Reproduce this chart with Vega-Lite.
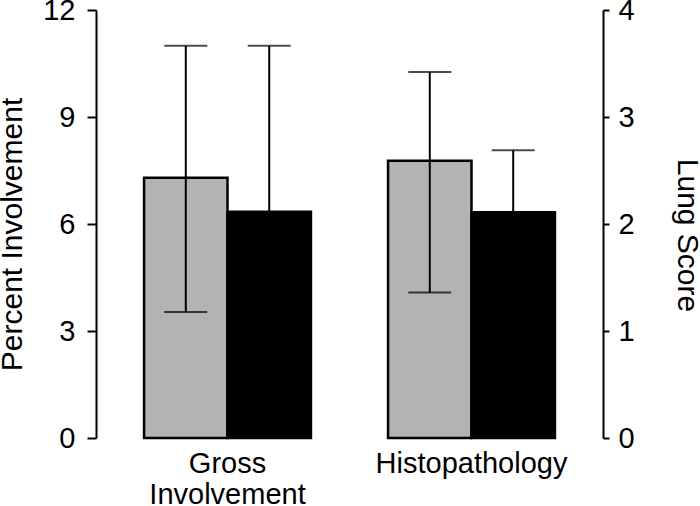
{
  "$schema": "https://vega.github.io/schema/vega-lite/v6.json",
  "width": 507,
  "height": 428,
  "autosize": {"type": "none"},
  "padding": {"left": 96, "top": 10, "right": 97, "bottom": 68},
  "background": "white",
  "config": {
    "view": {"stroke": null},
    "font": "Liberation Sans",
    "axis": {
      "labelFont": "Liberation Sans",
      "titleFont": "Liberation Sans",
      "labelColor": "black",
      "titleColor": "black",
      "domainColor": "black",
      "tickColor": "black",
      "grid": false,
      "labelFontSize": 29,
      "titleFontSize": 30,
      "titleFontWeight": "normal",
      "labelLimit": 400,
      "domainWidth": 2,
      "tickWidth": 2
    }
  },
  "data": {
    "values": [
      {"cat": "Gross Involvement", "grp": "A", "mean": 7.3, "lo": 3.53, "hi": 11.0},
      {"cat": "Gross Involvement", "grp": "B", "mean": 6.34, "lo": 1.68, "hi": 11.0},
      {"cat": "Histopathology", "grp": "A", "mean": 2.59, "lo": 1.36, "hi": 3.42},
      {"cat": "Histopathology", "grp": "B", "mean": 2.11, "lo": 1.53, "hi": 2.69}
    ]
  },
  "encoding": {
    "x": {
      "field": "cat",
      "type": "nominal",
      "scale": {"domain": ["Gross Involvement", "Histopathology"], "paddingInner": 0.316, "paddingOuter": 0.197},
      "axis": {
        "title": null,
        "domain": false,
        "ticks": false,
        "labelAngle": 0,
        "labelPadding": 11,
        "labelLimit": 400,
        "labelLineHeight": 31,
        "labelExpr": "datum.value == 'Gross Involvement' ? ['Gross', 'Involvement'] : datum.value"
      }
    },
    "xOffset": {
      "field": "grp",
      "type": "nominal",
      "scale": {"domain": ["A", "B"], "paddingInner": 0, "paddingOuter": 0}
    }
  },
  "layer": [
    {
      "transform": [{"filter": "datum.cat == 'Gross Involvement'"}],
      "layer": [
        {
          "mark": {"type": "bar", "stroke": "black", "strokeWidth": 2.5},
          "encoding": {
            "y": {"field": "mean", "type": "quantitative", "scale": {"domain": [0, 12], "nice": false},
              "axis": {"orient": "left", "values": [0, 3, 6, 9, 12], "tickSize": 9, "labelPadding": 12, "title": "Percent Involvement", "titlePadding": 15, "titleY": 224}},
            "color": {"field": "grp", "type": "nominal", "scale": {"domain": ["A", "B"], "range": ["#b3b3b3", "#000000"]}, "legend": null}
          }
        },
        {
          "mark": {"type": "rule", "color": "black", "strokeWidth": 2},
          "encoding": {
            "y": {"field": "lo", "type": "quantitative", "scale": {"domain": [0, 12], "nice": false},
              "axis": {"orient": "left", "values": [0, 3, 6, 9, 12], "tickSize": 9, "labelPadding": 12, "title": "Percent Involvement", "titlePadding": 15, "titleY": 224}},
            "y2": {"field": "hi"}
          }
        },
        {
          "mark": {"type": "tick", "color": "black", "size": 43, "thickness": 2},
          "encoding": {
            "y": {"field": "hi", "type": "quantitative", "scale": {"domain": [0, 12], "nice": false},
              "axis": {"orient": "left", "values": [0, 3, 6, 9, 12], "tickSize": 9, "labelPadding": 12, "title": "Percent Involvement", "titlePadding": 15, "titleY": 224}}
          }
        },
        {
          "mark": {"type": "tick", "color": "black", "size": 43, "thickness": 2},
          "encoding": {
            "y": {"field": "lo", "type": "quantitative", "scale": {"domain": [0, 12], "nice": false},
              "axis": {"orient": "left", "values": [0, 3, 6, 9, 12], "tickSize": 9, "labelPadding": 12, "title": "Percent Involvement", "titlePadding": 15, "titleY": 224}}
          }
        }
      ]
    },
    {
      "transform": [{"filter": "datum.cat == 'Histopathology'"}],
      "layer": [
        {
          "mark": {"type": "bar", "stroke": "black", "strokeWidth": 2.5},
          "encoding": {
            "y": {"field": "mean", "type": "quantitative", "scale": {"domain": [0, 4], "nice": false},
              "axis": {"orient": "right", "values": [0, 1, 2, 3, 4], "tickSize": 6, "labelPadding": 9, "title": "Lung Score", "titlePadding": 37, "titleY": 225}},
            "color": {"field": "grp", "type": "nominal", "scale": {"domain": ["A", "B"], "range": ["#b3b3b3", "#000000"]}, "legend": null}
          }
        },
        {
          "mark": {"type": "rule", "color": "black", "strokeWidth": 2},
          "encoding": {
            "y": {"field": "lo", "type": "quantitative", "scale": {"domain": [0, 4], "nice": false},
              "axis": {"orient": "right", "values": [0, 1, 2, 3, 4], "tickSize": 6, "labelPadding": 9, "title": "Lung Score", "titlePadding": 37, "titleY": 225}},
            "y2": {"field": "hi"}
          }
        },
        {
          "mark": {"type": "tick", "color": "black", "size": 43, "thickness": 2},
          "encoding": {
            "y": {"field": "hi", "type": "quantitative", "scale": {"domain": [0, 4], "nice": false},
              "axis": {"orient": "right", "values": [0, 1, 2, 3, 4], "tickSize": 6, "labelPadding": 9, "title": "Lung Score", "titlePadding": 37, "titleY": 225}}
          }
        },
        {
          "mark": {"type": "tick", "color": "black", "size": 43, "thickness": 2},
          "encoding": {
            "y": {"field": "lo", "type": "quantitative", "scale": {"domain": [0, 4], "nice": false},
              "axis": {"orient": "right", "values": [0, 1, 2, 3, 4], "tickSize": 6, "labelPadding": 9, "title": "Lung Score", "titlePadding": 37, "titleY": 225}}
          }
        }
      ]
    }
  ],
  "resolve": {"scale": {"y": "independent"}, "axis": {"y": "independent"}}
}
